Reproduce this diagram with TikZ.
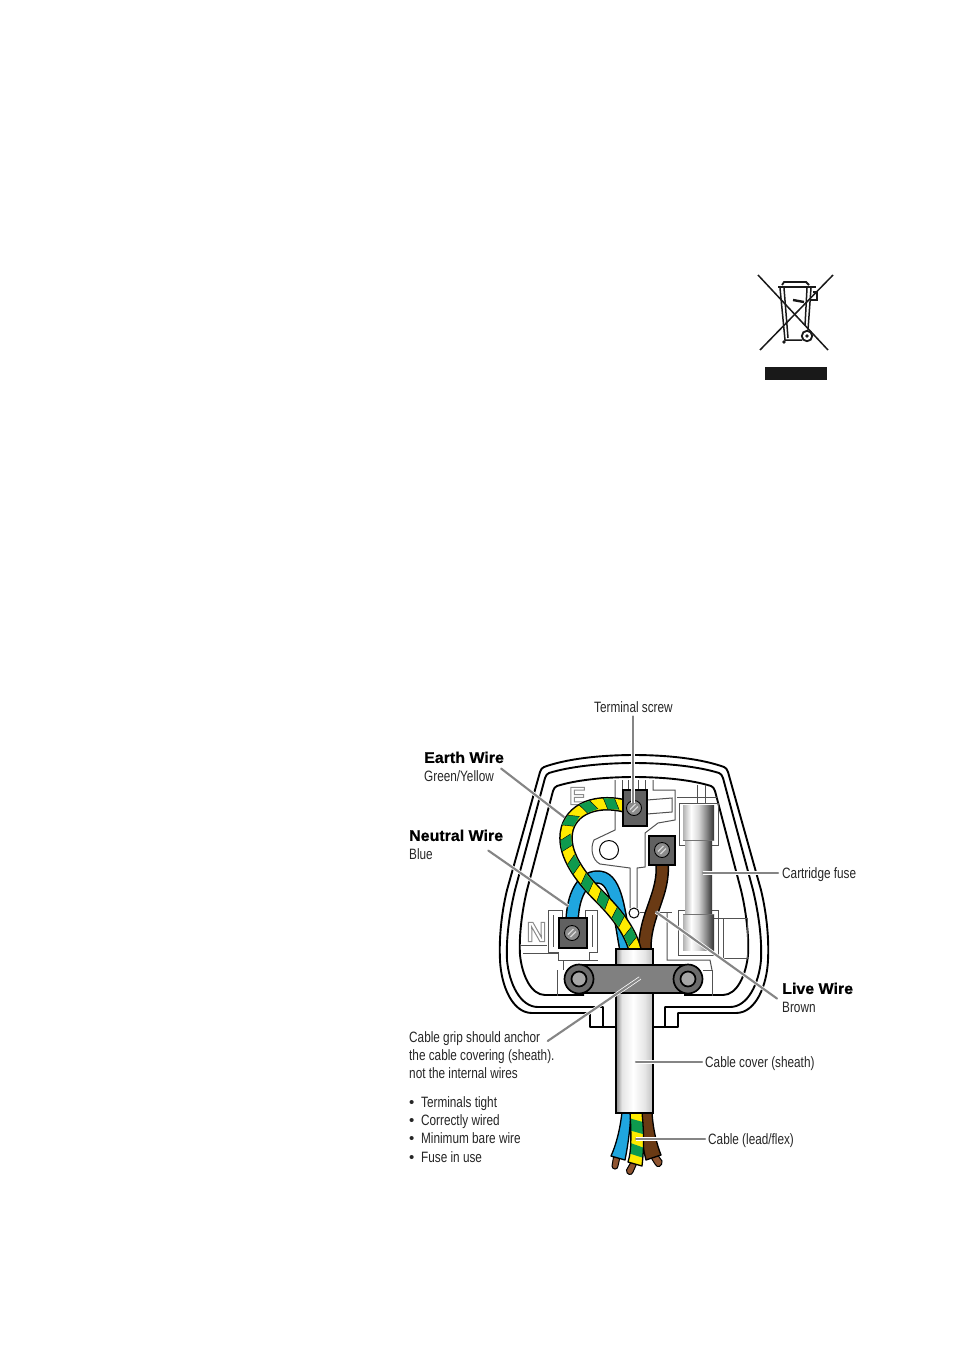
\documentclass[tikz,border=0pt]{standalone}
\usepackage{fontspec}
\usetikzlibrary{decorations.markings}
\setmainfont{Liberation Sans}
\newfontfamily\condf[FakeStretch=0.785]{Liberation Sans}
\newfontfamily\boldf[FakeStretch=1.03,FakeBold=0.5]{Liberation Sans Bold}
\newfontfamily\letterf{Liberation Sans Bold}
\pgfdeclarehorizontalshading{fuseshade}{100bp}{color(0bp)=(black!30);color(25bp)=(black!30);color(38bp)=(white);color(50bp)=(black!15);color(62bp)=(black!45);color(75bp)=(black!80);color(100bp)=(black!80)}
\pgfdeclarehorizontalshading{cableshade}{100bp}{color(0bp)=(black!45);color(25bp)=(black!45);color(33bp)=(black!10);color(48bp)=(white);color(64bp)=(black!10);color(75bp)=(black!25);color(100bp)=(black!25)}
\definecolor{wblue}{HTML}{1FA6DF}
\definecolor{wgreen}{HTML}{0E9A4E}
\definecolor{wyellow}{HTML}{FFEB00}
\definecolor{wbrown}{HTML}{6A3A14}
\definecolor{copper}{HTML}{8F5430}
\tikzset{
  body/.style={line width=1.9pt,draw=black,line join=round},
  fine/.style={line width=1pt,draw=black!68},
  leader/.style={line width=2.1pt,draw=black!48,preaction={draw=white,line width=3.6pt},line cap=round},
  txt/.style={inner sep=0pt,font=\condf\fontsize{15}{18.3}\selectfont,align=left,text=black!85},
  wedge/.style={line width=13.6pt,draw=black},
  block/.style={fill=black!62,draw=black,line width=1.8pt},
  screwhead/.style={circle,minimum size=15pt,inner sep=0pt,fill=black!45,draw=black,line width=0.9pt},
  lowerw/.style={draw=black,line width=1.3pt,line join=round},
  tip/.style={fill=copper,draw=black,line width=1pt},
  stripes/.style={postaction={decorate,decoration={markings,
    mark=between positions 14pt and -2pt step 23pt with {
      \fill[wgreen] (-3.2,5.3) -- (8.3,5.3) -- (3.2,-5.3) -- (-8.3,-5.3) -- cycle;
      \draw[black,line width=0.4pt] (-3.2,5.3) -- (-8.3,-5.3) (8.3,5.3) -- (3.2,-5.3);
    }}}},
}
\newcommand{\hb}[1]{{\boldf\fontsize{15.5}{18.3}\selectfont\textcolor{black}{#1}}}
\newcommand{\bul}{{\normalfont •}\hspace{6.7pt}}
\newcommand{\screw}[3]{%
  \node[screwhead] (#1) at (#2,#3) {};
  \draw[white!85!black,line width=1.3pt] (#2-4,#3+1.5) -- (#2+1.5,#3-4);
  \draw[white!85!black,line width=1.3pt] (#2-1.5,#3+4) -- (#2+4,#3-1.5);
}
\begin{document}
\begin{tikzpicture}[x=1pt,y=-1pt]
\useasboundingbox (0,0) rectangle (953,1352);
\fill[white] (0,0) rectangle (953,1352);

% ---- WEEE symbol
\begin{scope}[line width=1.5pt,black!90]
\draw (758,275) -- (828,350);
\draw (833,275) -- (760,350);
\draw[line width=2.4pt] (778,287) -- (816,287);
\draw[line width=1.8pt] (782,285) -- (784,282) -- (806,282) -- (809,285);
\draw (780,288) -- (785,340) -- (802,340);
\draw (784,288) -- (788,338);
\draw (811,288) -- (808,330);
\draw (807,288) -- (805,326);
\draw[line width=2.4pt] (793,300) -- (804,302);
\draw (813,292) -- (817,292) -- (817,300) -- (811,300);
\fill (784,342) circle (1.8);
\draw[line width=1.8pt] (807,336) circle (5.2);
\fill (807,336) circle (1.8);
\fill (765,367) rectangle (827,380);
\end{scope}

% ---- plug outlines (mirrored about the axis)
\foreach \s in {1,-1}{
\begin{scope}[shift={(634,0)},xscale=\s]
\draw[body] (1,755) .. controls (-35,755) and (-68,759) .. (-90,767) .. controls (-92,768) and (-93,769) .. (-94,772)
  -- (-127,890) .. controls (-133,915) and (-135,940) .. (-134,960) .. controls (-133,985) and (-122,1013) .. (-102,1013)
  -- (-44,1013) -- (-44,1027) -- (-18,1027);
\draw[body] (1,763) .. controls (-35,763) and (-66,767) .. (-85,773) .. controls (-87,774) and (-88,775) .. (-89,778)
  -- (-119,890) .. controls (-125,915) and (-128,940) .. (-127,960) .. controls (-125,983) and (-114,1007) .. (-96,1007)
  -- (-31,1007) -- (-31,1027);
\draw[body] (1,777) .. controls (-30,777) and (-58,780) .. (-77,786) .. controls (-79,787) and (-80,788) .. (-81,791)
  -- (-107,890) .. controls (-113,915) and (-115,940) .. (-114,955) .. controls (-112,975) and (-103,995) .. (-89,995)
  -- (-50,995);
\end{scope}}

% ---- inner moulding
\draw[fine] (615,780) -- (615,830) -- (594,840) .. controls (590,848) and (592,860) .. (600,864) -- (630,868) -- (630,908);
\draw[fine] (637,908) -- (637,868) -- (645,867) -- (645,833) -- (658,823) -- (675,820) -- (675,790) -- (653,790) -- (653,780);
\draw[fine] (647,800) -- (672,798) -- (672,812) -- (647,814);
\draw[fine] (622,780) -- (622,790) (628,780) -- (628,790) (638,780) -- (638,790) (645,780) -- (645,790);
\draw[fine] (677,797) -- (718,797);
\draw[fine] (697,785) -- (697,803) (705,785) -- (705,803);
\draw[fine] (679,803) -- (679,845) -- (718,845) -- (718,803) -- cycle;
\draw[fine] (678,910) -- (718,910) -- (718,955) -- (678,955) -- cycle;
\draw[fine] (667,912) -- (667,960) -- (710,960) -- (712,970);
\draw[fine] (640,912) -- (672,912);
\draw[fine] (713,918) -- (747,918) -- (747,958) -- (723,958);
\draw[fine] (703,970) -- (712,970) -- (712,996);
\draw[fine] (723,918) -- (723,958);
\draw[fine] (548,910) -- (548,952) -- (558,952) -- (558,960) -- (598,960);
\draw[fine] (589,960) -- (589,952) -- (597,952) -- (597,910) -- (585,910) -- (585,917);
\draw[fine] (548,910) -- (562,910) -- (562,917);
\draw[fine] (553,915) -- (553,947) (592,915) -- (592,947);
\draw[fine] (520,945) -- (547,945) (523,953) -- (558,953);
\draw[fine] (557,970) -- (557,996) (563,960) -- (563,970);
\node[circle,draw=black,line width=1pt,fill=white,minimum size=19pt,inner sep=0pt] (earthhole) at (609,850) {};
\node[circle,draw=black,line width=1pt,fill=white,minimum size=10pt,inner sep=0pt] (lowerhole) at (634,913) {};

% ---- embossed letters
\node[inner sep=0pt] (letterE) at (577.5,796) {\special{pdf:code 1 Tr 1 w 0.55 G}\letterf\fontsize{25}{25}\selectfont E\special{pdf:code 0 Tr 0 G}};
\node[inner sep=0pt] (letterN) at (536.5,932) {\special{pdf:code 1 Tr 1 w 0.55 G}\letterf\fontsize{28}{28}\selectfont N\special{pdf:code 0 Tr 0 G}};

% ---- internal wires
\def\bluewire{(572,925) .. controls (572,888) and (588,873) .. (603,878) .. controls (618,884) and (620,920) .. (626,950)}
\def\earthwire{(625,806) .. controls (592,798) and (566,812) .. (566,838) .. controls (566,860) and (585,882) .. (600,897) .. controls (615,912) and (630,930) .. (635,950)}
\def\brownwire{(662,862) .. controls (665,895) and (644,915) .. (645,950)}
\draw[wedge] \bluewire;
\draw[wblue,line width=10.6pt] \bluewire;
\draw[wedge] \brownwire;
\draw[wbrown,line width=10.6pt] \brownwire;
\draw[wedge] \earthwire;
\draw[wyellow,line width=10.6pt,stripes] \earthwire;

% ---- terminals
\draw[block] (623,790) rectangle (647,826);
\screw{scrE}{634}{808}
\draw[block] (649,836) rectangle (675,865);
\screw{scrL}{662}{850}
\draw[block] (559,918) rectangle (587,948);
\screw{scrN}{572}{933}

% ---- fuse
\shade[shading=fuseshade] (685,838) rectangle (712,914);
\shade[shading=fuseshade] (683,805) rectangle (714,840);
\shade[shading=fuseshade] (683,914) rectangle (714,950);
\draw[black!55,line width=0.6pt] (683,840) -- (714,840) (683,914) -- (714,914);

% ---- wires leaving the cable
\draw[tip] (613.5,1157) -- (612,1166) .. controls (612,1170) and (618,1170) .. (618,1166) -- (620,1157) -- cycle;
\draw[tip] (631,1162) -- (626.5,1170) .. controls (626,1175) and (632,1176) .. (633,1172) -- (637,1163) -- cycle;
\draw[tip] (650,1156) -- (655,1164) .. controls (657,1169) and (663,1166) .. (662,1161) -- (657,1154) -- cycle;
\draw[lowerw,fill=wbrown] (641,1112) -- (652,1112) .. controls (653,1130) and (657,1145) .. (661,1155) -- (646,1160) .. controls (642,1145) and (641,1130) .. (641,1112) -- cycle;
\draw[lowerw,fill=wblue] (622,1112) -- (631,1112) .. controls (630,1130) and (628,1145) .. (625,1160) -- (611,1156) .. controls (616,1145) and (620,1130) .. (622,1112) -- cycle;
\begin{scope}
\clip (630,1112) -- (642,1112) .. controls (643,1125) and (645,1140) .. (642,1166) -- (628,1162) .. controls (632,1150) and (631,1130) .. (630,1112) -- cycle;
\fill[wyellow] (620,1105) rectangle (650,1170);
\fill[wgreen] (625,1117) -- (650,1124) -- (650,1136) -- (625,1129) -- cycle;
\fill[wgreen] (625,1141) -- (650,1150) -- (650,1160) -- (625,1152) -- cycle;
\end{scope}
\draw[lowerw] (630,1112) -- (642,1112) .. controls (643,1125) and (645,1140) .. (642,1166) -- (628,1162) .. controls (632,1150) and (631,1130) .. (630,1112) -- cycle;

% ---- cable
\shade[shading=cableshade] (616,949) rectangle (653,1113);
\draw[line width=1.9pt,black] (616,949) rectangle (653,1113);

% ---- cable grip
\draw[fill=black!50,line width=1.7pt] (579,965) -- (688,965) -- (688,993) -- (579,993) -- cycle;
\foreach \n/\x in {gripL/579,gripR/688}{
  \node[circle,minimum size=29pt,inner sep=0pt,fill=black!58,draw=black,line width=1.7pt] (\n) at (\x,979) {};
  \node[circle,minimum size=15pt,inner sep=0pt,fill=black!35,draw=black,line width=1.7pt] at (\x,979) {};
}

% ---- labels
\node[txt,anchor=base west] (ts) at (594,712) {Terminal screw};
\node[txt,anchor=north west] (earth) at (424,751.5) {\hb{Earth Wire}\\Green/Yellow};
\node[txt,anchor=north west] (neutral) at (409,829.5) {\hb{Neutral Wire}\\Blue};
\node[txt,anchor=base west] (cf) at (782,878) {Cartridge fuse};
\node[txt,anchor=north west] (live) at (782,982.5) {\hb{Live Wire}\\Brown};
\node[txt,anchor=north west] (grip) at (409,1031) {Cable grip should anchor\\the cable covering (sheath).\\not the internal wires};
\node[txt,anchor=base west] (b1) at (409,1107) {\bul Terminals tight};
\node[txt,anchor=base west] (b2) at (409,1125) {\bul Correctly wired};
\node[txt,anchor=base west] (b3) at (409,1143) {\bul Minimum bare wire};
\node[txt,anchor=base west] (b4) at (409,1162) {\bul Fuse in use};
\node[txt,anchor=base west] (cc) at (705,1067) {Cable cover (sheath)};
\node[txt,anchor=base west] (cl) at (708,1144) {Cable (lead/flex)};

% ---- leaders
\coordinate (tsEnd) at (633,803);
\coordinate (earthEnd) at (564,817);
\coordinate (neutralEnd) at (568,906);
\coordinate (fuseEnd) at (703,873);
\coordinate (liveEnd) at (656,912);
\coordinate (gripEnd) at (640,978);
\coordinate (coverEnd) at (636,1062);
\coordinate (flexEnd) at (636,1139);
\draw[leader] ([yshift=-4pt]ts.south -| tsEnd) -- (tsEnd);
\draw[leader] ([shift={(-3pt,-2pt)}]earth.east) -- (earthEnd);
\draw[leader] ([shift={(-15pt,-6pt)}]neutral.east) -- (neutralEnd);
\draw[leader] ([xshift=-4pt]fuseEnd -| cf.west) -- (fuseEnd);
\draw[leader] ([shift={(-5pt,-1pt)}]live.west) -- (liveEnd);
\draw[leader] ([shift={(-7pt,14pt)}]grip.east) -- (gripEnd);
\draw[leader] ([xshift=-3pt]coverEnd -| cc.west) -- (coverEnd);
\draw[leader] ([xshift=-3pt]flexEnd -| cl.west) -- (flexEnd);
\end{tikzpicture}
\end{document}
